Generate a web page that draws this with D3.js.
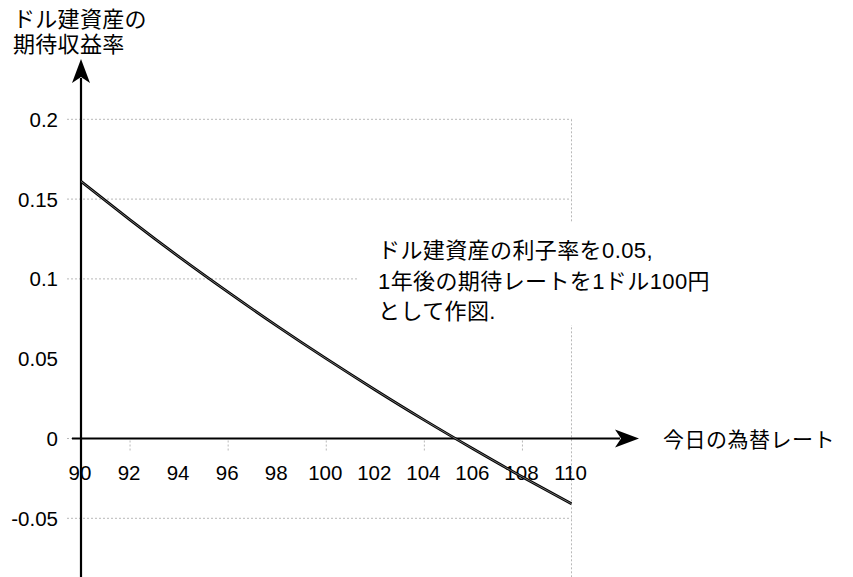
<!DOCTYPE html>
<html>
<head>
<meta charset="utf-8">
<script src="https://cdn.jsdelivr.net/npm/d3@7"></script>
<style>
  body { margin: 0; background: #fff; }
  svg text { font-family: "Liberation Sans", "Noto Sans CJK JP", sans-serif; fill: #000; }
</style>
</head>
<body>
<svg id="chart" width="853" height="577"></svg>
<script>
// exchange rate today (yen per dollar) vs expected return on dollar assets
var rates = [90, 92, 94, 96, 98, 100, 102, 104, 106, 108, 110];
var returns = [0.1611, 0.1370, 0.1138, 0.0917, 0.0704, 0.0500, 0.0304, 0.0115, -0.0066, -0.0241, -0.0409];

var xTicks = [90, 92, 94, 96, 98, 100, 102, 104, 106, 108, 110];
var yTicks = [-0.05, 0, 0.05, 0.1, 0.15, 0.2];
var yGrid = [0.2, 0.15, 0.1, -0.05];
var xStubs = [92, 96, 100, 104, 108];

var yTitle = ["ドル建資産の", "期待収益率"];
var xTitle = "今日の為替レート";
var note = ["ドル建資産の利子率を0.05,", "1年後の期待レートを1ドル100円", "として作図."];

var svg = d3.select("#chart");

var x = d3.scaleLinear().domain([90, 110]).range([81, 571.5]);
var y = d3.scaleLinear().domain([-0.05, 0.2]).range([518.3, 119.3]);

var grid = svg.append("g")
  .attr("stroke", "#b8b8b8")
  .attr("stroke-width", 1)
  .attr("stroke-dasharray", "2,2")
  .attr("fill", "none");

// horizontal grid lines
grid.selectAll("line.h").data(yGrid).enter().append("line")
  .attr("class", "h")
  .attr("x1", 67).attr("x2", x(110))
  .attr("y1", function (d) { return y(d); })
  .attr("y2", function (d) { return y(d); });

// little stub left of the axis at zero
grid.append("line")
  .attr("x1", 67).attr("x2", x(90))
  .attr("y1", y(0)).attr("y2", y(0));

// right border
grid.append("line")
  .attr("x1", x(110)).attr("x2", x(110))
  .attr("y1", y(0.2)).attr("y2", 577);

// stubs under the x axis
grid.selectAll("line.v").data(xStubs).enter().append("line")
  .attr("class", "v")
  .attr("x1", function (d) { return x(d); })
  .attr("x2", function (d) { return x(d); })
  .attr("y1", y(0) + 2).attr("y2", y(0) + 14);

// annotation box covers the grid
svg.append("rect")
  .attr("x", 357).attr("y", 222)
  .attr("width", 360).attr("height", 103)
  .attr("fill", "#fff");

svg.append("g").selectAll("text").data(note).enter().append("text")
  .attr("x", 378)
  .attr("y", function (d, i) { return 258 + i * 30.5; })
  .attr("font-size", 22)
  .attr("letter-spacing", 0.4)
  .text(function (d) { return d; });

// tick labels
svg.append("g").selectAll("text").data(xTicks).enter().append("text")
  .attr("x", function (d) { return x(d) - 1; })
  .attr("y", 480)
  .attr("text-anchor", "middle")
  .attr("font-size", 20.5)
  .text(function (d) { return d; });

svg.append("g").selectAll("text").data(yTicks).enter().append("text")
  .attr("x", 58)
  .attr("y", function (d) { return y(d) + 7.5; })
  .attr("text-anchor", "end")
  .attr("font-size", 20.5)
  .text(function (d) { return d; });

// axes with arrow heads
var axes = svg.append("g").attr("stroke", "#000").attr("stroke-width", 2.2);
axes.append("line")
  .attr("x1", 72).attr("x2", 620)
  .attr("y1", y(0)).attr("y2", y(0));
axes.append("line")
  .attr("x1", x(90)).attr("x2", x(90))
  .attr("y1", 577).attr("y2", 78);

var y0 = y(0), ax = x(90);
svg.append("path")
  .attr("d", "M" + 639 + "," + y0 + " L" + 615 + "," + (y0 - 9) + " L" + 621 + "," + y0 + " L" + 615 + "," + (y0 + 9) + "Z")
  .attr("fill", "#000");
svg.append("path")
  .attr("d", "M" + ax + "," + 59 + " L" + (ax - 9) + "," + 83 + " L" + ax + "," + 77 + " L" + (ax + 9) + "," + 83 + "Z")
  .attr("fill", "#000");

// curve
var pts = rates.map(function (r, i) { return [r, returns[i]]; });
var line = d3.line()
  .x(function (d) { return x(d[0]); })
  .y(function (d) { return y(d[1]); })
  .curve(d3.curveNatural);

svg.append("path")
  .datum(pts)
  .attr("d", line)
  .attr("fill", "none")
  .attr("stroke", "#000")
  .attr("stroke-width", 2.8);
svg.append("path")
  .datum(pts)
  .attr("d", line)
  .attr("fill", "none")
  .attr("stroke", "#8a8a8a")
  .attr("stroke-width", 0.8);

// axis titles
svg.append("g").selectAll("text").data(yTitle).enter().append("text")
  .attr("x", 13)
  .attr("y", function (d, i) { return 27 + i * 25; })
  .attr("font-size", 22)
  .attr("letter-spacing", 0.3)
  .text(function (d) { return d; });

svg.append("text")
  .attr("x", 663)
  .attr("y", y(0) + 8)
  .attr("font-size", 21)
  .attr("letter-spacing", 0.5)
  .text(xTitle);
</script>
</body>
</html>
